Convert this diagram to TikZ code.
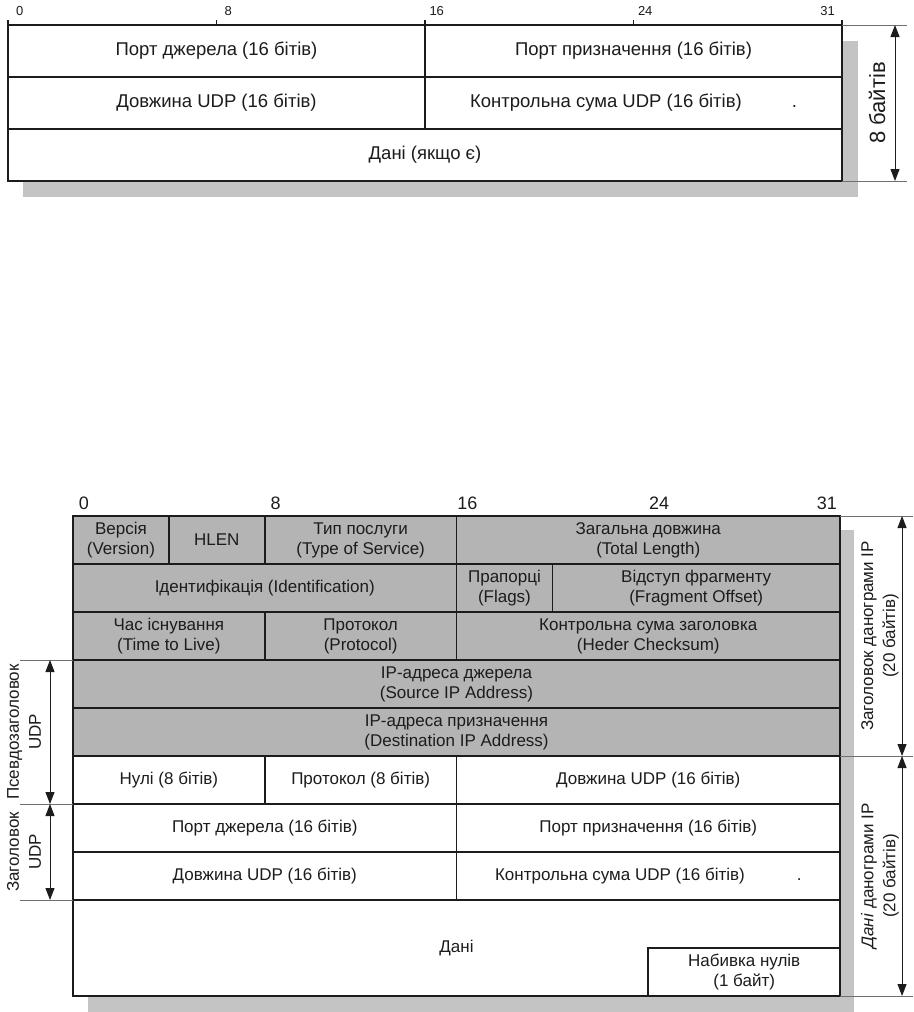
\documentclass[tikz,border=0pt]{standalone}
\usepackage{fontspec}
\setmainfont{Liberation Sans}
\usepackage{tikz}
\usetikzlibrary{arrows.meta,positioning}
\usepackage{xcolor}
\definecolor{Ink}{HTML}{1C1C1C}
\definecolor{CellGray}{HTML}{B4B4B4}
\definecolor{ShadowGray}{HTML}{C4C4C4}
\definecolor{Guide}{HTML}{707070}
\newcommand{\bitw}{23.97}
\newcommand{\topbitw}{26.0625}
\tikzset{
  field/.style={draw=Ink, line width=1.8pt, fill=white, inner sep=0pt, outer sep=0pt, anchor=north west, align=center, text=Ink, font=\fontsize{17}{20}\selectfont, minimum height=48pt},
  ipfield/.style={field, fill=CellGray},
  udpfield/.style={field, minimum height=52pt, font=\fontsize{18.5}{20}\selectfont},
  bitnum/.style={font=\fontsize{18}{20}\selectfont, text=Ink, inner sep=0pt},
  topnum/.style={font=\fontsize{13}{14}\selectfont, text=Ink, inner sep=0pt},
  tick/.style={draw=Ink, line width=1.2pt},
  guide/.style={draw=Guide, line width=0.9pt},
  dimarrow/.style={{Triangle[length=12pt,width=9pt]}-{Triangle[length=12pt,width=9pt]}, draw=Ink, line width=1pt},
  sidelabel/.style={rotate=90, align=center, font=\fontsize{17}{22}\selectfont, text=Ink, inner sep=0pt},
  shade/.style={fill=ShadowGray}
}
\begin{document}
\begin{tikzpicture}[x=1pt, y=-1pt]
\useasboundingbox (0,0) rectangle (913,1012);
% UDP header alone
\fill[shade] (23,41) rectangle (858,197);
\node[udpfield, minimum width=16*\topbitw pt] (srcport) at (8,25) {Порт джерела (16 бітів)};
\node[udpfield, minimum width=16*\topbitw pt] (dstport) at (425,25) {Порт призначення (16 бітів)};
\node[udpfield, minimum width=16*\topbitw pt] (udplen) at (8,77) {Довжина UDP (16 бітів)};
\node[udpfield, minimum width=16*\topbitw pt] (udpsum) at (425,77) {Контрольна сума UDP (16 бітів)\hspace{50pt}.};
\node[udpfield, minimum width=32*\topbitw pt] (udpdata) at (8,129) {Дані (якщо є)};
\foreach \b in {0,8,16,24,32}
  \draw[tick] ({8+\b*\topbitw},20) -- ++(0,6);
\foreach \b in {0,8,16,24,31}
  \node[topnum] (tb\b) at ({8+(\b+0.45)*\topbitw},11) {\b};
\draw[guide] (dstport.north east) -- ++(65,0);
\draw[guide] (udpdata.south east) -- ++(65,0);
\draw[dimarrow] ([xshift=53pt]dstport.north east) -- ([xshift=53pt]udpdata.south east);
\node[sidelabel, font=\fontsize{22}{24}\selectfont] (eightbytes) at (877,103) {8 байтів};
% IP datagram with pseudo header
\fill[shade] (88,530) rectangle (854,1012);
\node[ipfield, minimum width=4*\bitw pt] (ver) at (73,516) {Версія\\(Version)};
\node[ipfield, minimum width=4*\bitw pt] (hlen) at ({73+4*\bitw},516) {HLEN};
\node[ipfield, minimum width=8*\bitw pt] (tos) at ({73+8*\bitw},516) {Тип послуги\\(Type of Service)};
\node[ipfield, minimum width=16*\bitw pt] (totlen) at ({73+16*\bitw},516) {Загальна довжина\\(Total Length)};
\node[ipfield, minimum width=16*\bitw pt] (ident) at (73,564) {Ідентифікація (Identification)};
\node[ipfield, minimum width=4*\bitw pt] (flags) at ({73+16*\bitw},564) {Прапорці\\(Flags)};
\node[ipfield, minimum width=12*\bitw pt] (fragoff) at ({73+20*\bitw},564) {Відступ фрагменту\\(Fragment Offset)};
\node[ipfield, minimum width=8*\bitw pt] (ttl) at (73,612) {Час існування\\(Time to Live)};
\node[ipfield, minimum width=8*\bitw pt] (proto) at ({73+8*\bitw},612) {Протокол\\(Protocol)};
\node[ipfield, minimum width=16*\bitw pt] (hdrsum) at ({73+16*\bitw},612) {Контрольна сума заголовка\\(Heder Checksum)};
\node[ipfield, minimum width=32*\bitw pt] (srcip) at (73,660) {IP-адреса джерела\\(Source IP Address)};
\node[ipfield, minimum width=32*\bitw pt] (dstip) at (73,708) {IP-адреса призначення\\(Destination IP Address)};
\node[field, minimum width=8*\bitw pt] (zeros) at (73,756) {Нулі (8 бітів)};
\node[field, minimum width=8*\bitw pt] (pproto) at ({73+8*\bitw},756) {Протокол (8 бітів)};
\node[field, minimum width=16*\bitw pt] (plen) at ({73+16*\bitw},756) {Довжина UDP (16 бітів)};
\node[field, minimum width=16*\bitw pt] (usrc) at (73,804) {Порт джерела (16 бітів)};
\node[field, minimum width=16*\bitw pt] (udst) at ({73+16*\bitw},804) {Порт призначення (16 бітів)};
\node[field, minimum width=16*\bitw pt] (ulen) at (73,852) {Довжина UDP (16 бітів)};
\node[field, minimum width=16*\bitw pt] (usum) at ({73+16*\bitw},852) {Контрольна сума UDP (16 бітів)\hspace{52pt}.};
\node[field, minimum width=32*\bitw pt, minimum height=96pt] (udata) at (73,900) {Дані};
\node[field, minimum width=8*\bitw pt] (pad) at ({73+24*\bitw},948) {Набивка нулів\\(1 байт)};
\foreach \b in {0,8,16,24,31}
  \node[bitnum] (bb\b) at ({73+(\b+0.45)*\bitw},503) {\b};
% left marks
\draw[guide] (srcip.north west) -- ++(-53,0);
\draw[guide] (usrc.north west) -- ++(-53,0);
\draw[guide] (udata.north west) -- ++(-53,0);
\draw[dimarrow] ([xshift=-23pt]srcip.north west) -- ([xshift=-23pt]usrc.north west);
\draw[dimarrow] ([xshift=-23pt]usrc.north west) -- ([xshift=-23pt]udata.north west);
\node[sidelabel] (pseudo) at (24,732) {Псевдозаголовок\\UDP};
\node[sidelabel] (udphdr) at (24,852) {Заголовок\\UDP};
% right marks
\draw[guide] (totlen.north east) -- ++(73,0);
\draw[guide] (dstip.south east) -- ++(73,0);
\draw[guide] (udata.south east) -- ++(73,0);
\draw[dimarrow] ([xshift=62pt]totlen.north east) -- ([xshift=62pt]dstip.south east);
\draw[dimarrow] ([xshift=62pt]dstip.south east) -- ([xshift=62pt]udata.south east);
\node[sidelabel] (iphdr) at (880,636) {Заголовок данограми IP\\(20 байтів)};
\node[sidelabel] (ipdata) at (880,876) {\textit{Дані} данограми IP\\(20 байтів)};
\end{tikzpicture}
\end{document}
